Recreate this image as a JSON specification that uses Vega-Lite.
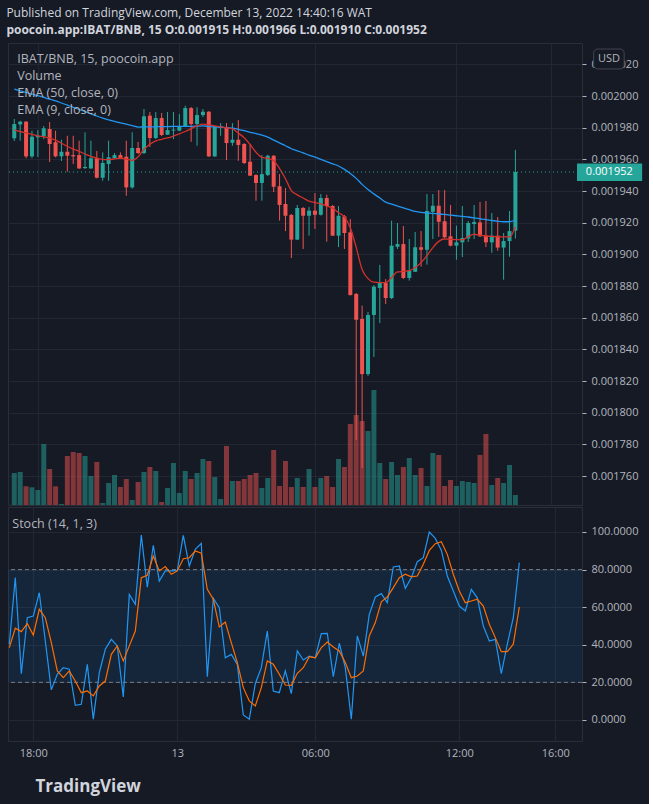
{
"$schema": "https://vega.github.io/schema/vega-lite/v6.json",
"background": "#161a25",
"padding": {"left": 6, "top": 6, "right": 6, "bottom": 12},
"autosize": {"type": "pad"},
"title": {"text": "Published on TradingView.com, December 13, 2022 14:40:16 WAT", "subtitle": "poocoin.app:IBAT/BNB, 15  O:0.001915 H:0.001966 L:0.001910 C:0.001952", "anchor": "start", "fontSize": 12, "fontWeight": "normal", "color": "#d1d4dc", "subtitleFontSize": 12, "subtitleFontWeight": "bold", "subtitleColor": "#d1d4dc", "subtitlePadding": 5, "offset": 6, "font": "Open Sans", "subtitleFont": "Open Sans"},
"datasets": {"bars": [
{"i":0,"o":0.0019733,"h":0.0019855,"l":0.0019716,"c":0.0019823,"v":32,"e50":0.0020044,"e9":0.0019785,"k":40.3,"d":38.5},
{"i":1,"o":0.0019821,"h":0.0019844,"l":0.0019718,"c":0.0019838,"v":33,"e50":0.0020033,"e9":0.0019776,"k":75.7,"d":48.8},
{"i":2,"o":0.0019838,"h":0.0019842,"l":0.0019607,"c":0.0019619,"v":18.7,"e50":0.0020023,"e9":0.0019767,"k":24.6,"d":47},
{"i":3,"o":0.0019619,"h":0.0019781,"l":0.0019607,"c":0.0019743,"v":17.7,"e50":0.0020012,"e9":0.0019758,"k":54.4,"d":51.2},
{"i":4,"o":0.0019739,"h":0.0019785,"l":0.0019615,"c":0.0019749,"v":15,"e50":0.0020002,"e9":0.0019749,"k":55.3,"d":45.2},
{"i":5,"o":0.0019746,"h":0.0019811,"l":0.0019728,"c":0.0019796,"v":61,"e50":0.0019991,"e9":0.0019742,"k":67.7,"d":58.9},
{"i":6,"o":0.0019792,"h":0.0019836,"l":0.0019583,"c":0.0019697,"v":36,"e50":0.001998,"e9":0.0019734,"k":42,"d":54.4},
{"i":7,"o":0.0019708,"h":0.0019781,"l":0.0019613,"c":0.0019619,"v":18.7,"e50":0.001997,"e9":0.0019721,"k":16,"d":41.1},
{"i":8,"o":0.0019619,"h":0.0019724,"l":0.001959,"c":0.0019648,"v":1,"e50":0.0019956,"e9":0.0019702,"k":24.3,"d":26.1},
{"i":9,"o":0.0019648,"h":0.0019749,"l":0.0019522,"c":0.0019623,"v":49,"e50":0.0019942,"e9":0.0019683,"k":27.8,"d":22.5},
{"i":10,"o":0.0019627,"h":0.0019749,"l":0.0019571,"c":0.0019619,"v":53,"e50":0.0019929,"e9":0.0019665,"k":27,"d":26.1},
{"i":11,"o":0.0019627,"h":0.0019718,"l":0.0019539,"c":0.0019543,"v":52,"e50":0.0019915,"e9":0.001965,"k":7.8,"d":20.7},
{"i":12,"o":0.0019545,"h":0.0019771,"l":0.0019539,"c":0.0019552,"v":49,"e50":0.0019901,"e9":0.0019634,"k":8.3,"d":14.5},
{"i":13,"o":0.0019543,"h":0.0019718,"l":0.0019539,"c":0.0019607,"v":29,"e50":0.0019888,"e9":0.0019619,"k":29.6,"d":15.4},
{"i":14,"o":0.0019607,"h":0.0019653,"l":0.001948,"c":0.0019484,"v":43,"e50":0.0019874,"e9":0.0019608,"k":0.4,"d":12.8},
{"i":15,"o":0.0019484,"h":0.0019644,"l":0.0019465,"c":0.0019577,"v":2,"e50":0.0019861,"e9":0.00196,"k":25.2,"d":18.1},
{"i":16,"o":0.0019571,"h":0.0019718,"l":0.0019465,"c":0.0019613,"v":22,"e50":0.001985,"e9":0.0019598,"k":37.6,"d":20.7},
{"i":17,"o":0.0019608,"h":0.001964,"l":0.0019602,"c":0.0019627,"v":30,"e50":0.001984,"e9":0.0019603,"k":42.9,"d":34.9},
{"i":18,"o":0.0019627,"h":0.0019644,"l":0.0019602,"c":0.0019607,"v":18,"e50":0.0019831,"e9":0.0019607,"k":39.4,"d":39.4},
{"i":19,"o":0.0019617,"h":0.0019718,"l":0.001937,"c":0.0019423,"v":26,"e50":0.0019822,"e9":0.0019602,"k":12.2,"d":31.4},
{"i":20,"o":0.0019423,"h":0.0019771,"l":0.0019415,"c":0.0019672,"v":5,"e50":0.0019813,"e9":0.0019593,"k":66.8,"d":39.4},
{"i":21,"o":0.0019672,"h":0.001971,"l":0.0019634,"c":0.001964,"v":23,"e50":0.0019804,"e9":0.0019616,"k":61.5,"d":47.3},
{"i":22,"o":0.001964,"h":0.0019918,"l":0.0019634,"c":0.0019872,"v":33,"e50":0.0019805,"e9":0.0019664,"k":98.4,"d":75.7},
{"i":23,"o":0.0019876,"h":0.0019899,"l":0.0019678,"c":0.0019735,"v":38,"e50":0.0019805,"e9":0.0019696,"k":70.7,"d":77},
{"i":24,"o":0.0019735,"h":0.0019899,"l":0.0019728,"c":0.0019861,"v":34,"e50":0.0019806,"e9":0.0019717,"k":92.9,"d":87.2},
{"i":25,"o":0.0019861,"h":0.0019893,"l":0.0019747,"c":0.0019754,"v":3,"e50":0.0019807,"e9":0.0019727,"k":73.9,"d":79.3},
{"i":26,"o":0.0019756,"h":0.0019899,"l":0.0019754,"c":0.0019785,"v":17,"e50":0.0019807,"e9":0.0019735,"k":79.3,"d":81.6},
{"i":27,"o":0.0019782,"h":0.0019899,"l":0.0019728,"c":0.0019788,"v":42,"e50":0.0019808,"e9":0.0019747,"k":79.3,"d":77.5},
{"i":28,"o":0.0019781,"h":0.0019886,"l":0.0019779,"c":0.0019809,"v":12,"e50":0.0019809,"e9":0.0019761,"k":79.6,"d":79.3},
{"i":29,"o":0.0019809,"h":0.0019939,"l":0.0019804,"c":0.0019924,"v":34,"e50":0.0019809,"e9":0.0019776,"k":98.2,"d":85.8},
{"i":30,"o":0.0019924,"h":0.0019931,"l":0.0019711,"c":0.0019823,"v":26,"e50":0.0019809,"e9":0.0019794,"k":81.9,"d":86.3},
{"i":31,"o":0.0019823,"h":0.0019929,"l":0.0019686,"c":0.001988,"v":32,"e50":0.001981,"e9":0.0019811,"k":90.8,"d":89.9},
{"i":32,"o":0.001988,"h":0.0019918,"l":0.0019867,"c":0.0019901,"v":46,"e50":0.0019811,"e9":0.0019822,"k":94,"d":88.7},
{"i":33,"o":0.0019901,"h":0.0019905,"l":0.0019615,"c":0.0019619,"v":44,"e50":0.0019808,"e9":0.0019818,"k":23,"d":69.5},
{"i":34,"o":0.0019619,"h":0.0019811,"l":0.0019615,"c":0.0019809,"v":28,"e50":0.0019805,"e9":0.0019812,"k":64.7,"d":64.2},
{"i":35,"o":0.0019798,"h":0.0019829,"l":0.0019749,"c":0.0019809,"v":6,"e50":0.0019803,"e9":0.0019805,"k":59.7,"d":49.5},
{"i":36,"o":0.0019804,"h":0.0019829,"l":0.0019596,"c":0.0019703,"v":59,"e50":0.00198,"e9":0.0019799,"k":33.1,"d":52.1},
{"i":37,"o":0.0019705,"h":0.0019829,"l":0.0019686,"c":0.0019724,"v":24,"e50":0.0019798,"e9":0.0019792,"k":34.9,"d":41.1},
{"i":38,"o":0.0019724,"h":0.0019848,"l":0.0019591,"c":0.0019691,"v":24,"e50":0.001979,"e9":0.0019766,"k":29.6,"d":30.5},
{"i":39,"o":0.0019697,"h":0.0019703,"l":0.0019571,"c":0.0019577,"v":26,"e50":0.0019781,"e9":0.0019737,"k":2.7,"d":17.2},
{"i":40,"o":0.0019585,"h":0.0019697,"l":0.0019495,"c":0.0019497,"v":30,"e50":0.0019771,"e9":0.0019694,"k":0.4,"d":10.1},
{"i":41,"o":0.0019501,"h":0.0019507,"l":0.0019339,"c":0.0019451,"v":32,"e50":0.0019763,"e9":0.0019645,"k":19.3,"d":7.4},
{"i":42,"o":0.0019451,"h":0.0019627,"l":0.0019339,"c":0.0019507,"v":17,"e50":0.0019753,"e9":0.0019613,"k":27.8,"d":17.2},
{"i":43,"o":0.0019501,"h":0.0019629,"l":0.0019495,"c":0.0019623,"v":27,"e50":0.001974,"e9":0.0019607,"k":47.3,"d":31.4},
{"i":44,"o":0.0019623,"h":0.0019627,"l":0.0019394,"c":0.0019427,"v":55,"e50":0.0019722,"e9":0.0019591,"k":15.4,"d":29.6},
{"i":45,"o":0.001943,"h":0.0019507,"l":0.0019213,"c":0.0019312,"v":19,"e50":0.0019704,"e9":0.0019542,"k":14.5,"d":24.3},
{"i":46,"o":0.0019318,"h":0.0019419,"l":0.0019147,"c":0.0019244,"v":44,"e50":0.0019686,"e9":0.0019478,"k":26.1,"d":18.6},
{"i":47,"o":0.0019249,"h":0.0019255,"l":0.0018977,"c":0.0019093,"v":18,"e50":0.0019667,"e9":0.0019403,"k":14,"d":18.4},
{"i":48,"o":0.0019093,"h":0.0019312,"l":0.0019091,"c":0.0019293,"v":27,"e50":0.0019654,"e9":0.0019376,"k":36.7,"d":24.8},
{"i":49,"o":0.0019293,"h":0.0019299,"l":0.0019034,"c":0.0019244,"v":18,"e50":0.0019641,"e9":0.0019356,"k":31.9,"d":27.8},
{"i":50,"o":0.0019244,"h":0.0019299,"l":0.0019118,"c":0.0019276,"v":36,"e50":0.0019627,"e9":0.0019336,"k":34,"d":33.7},
{"i":51,"o":0.0019276,"h":0.0019387,"l":0.001916,"c":0.001925,"v":18,"e50":0.0019614,"e9":0.0019328,"k":33.1,"d":33.1},
{"i":52,"o":0.001925,"h":0.0019381,"l":0.0019245,"c":0.0019356,"v":27,"e50":0.00196,"e9":0.0019319,"k":45.9,"d":38.5},
{"i":53,"o":0.0019356,"h":0.0019377,"l":0.001908,"c":0.0019305,"v":29,"e50":0.0019586,"e9":0.0019305,"k":46.1,"d":41.5},
{"i":54,"o":0.0019305,"h":0.0019312,"l":0.0019116,"c":0.0019118,"v":18,"e50":0.0019572,"e9":0.0019291,"k":23,"d":38.8},
{"i":55,"o":0.0019118,"h":0.0019305,"l":0.0019046,"c":0.0019244,"v":46,"e50":0.0019558,"e9":0.0019263,"k":40.8,"d":36.7},
{"i":56,"o":0.001924,"h":0.0019249,"l":0.0019034,"c":0.0019135,"v":38,"e50":0.0019537,"e9":0.0019237,"k":27.8,"d":30.5},
{"i":57,"o":0.0019139,"h":0.0019223,"l":0.001874,"c":0.0018743,"v":81,"e50":0.0019511,"e9":0.0019168,"k":0.4,"d":22.5},
{"i":58,"o":0.001875,"h":0.0018756,"l":0.0017828,"c":0.0018587,"v":90,"e50":0.001948,"e9":0.0019044,"k":44.7,"d":23.4},
{"i":59,"o":0.0018592,"h":0.0018676,"l":0.0017651,"c":0.0018244,"v":84,"e50":0.0019442,"e9":0.0018905,"k":34,"d":26.1},
{"i":60,"o":0.0018244,"h":0.0018636,"l":0.0018232,"c":0.0018617,"v":74,"e50":0.0019409,"e9":0.0018847,"k":56.2,"d":44.7},
{"i":61,"o":0.0018617,"h":0.0018806,"l":0.0018352,"c":0.0018796,"v":115,"e50":0.0019382,"e9":0.0018824,"k":65.4,"d":51.8},
{"i":62,"o":0.0018788,"h":0.0018933,"l":0.0018566,"c":0.0018819,"v":42,"e50":0.0019356,"e9":0.0018821,"k":67.2,"d":62.9},
{"i":63,"o":0.0018819,"h":0.0018844,"l":0.0018686,"c":0.0018724,"v":26,"e50":0.001933,"e9":0.0018821,"k":62.4,"d":65.4},
{"i":64,"o":0.0018724,"h":0.0019213,"l":0.0018718,"c":0.0019055,"v":43,"e50":0.0019317,"e9":0.0018854,"k":81.4,"d":70.4},
{"i":65,"o":0.0019048,"h":0.0019198,"l":0.0019034,"c":0.0019065,"v":30,"e50":0.0019305,"e9":0.0018889,"k":81.9,"d":75.7},
{"i":66,"o":0.0019065,"h":0.0019179,"l":0.0018844,"c":0.0018851,"v":38,"e50":0.0019293,"e9":0.0018892,"k":70,"d":77.5},
{"i":67,"o":0.0018851,"h":0.0019097,"l":0.0018834,"c":0.0018897,"v":47,"e50":0.0019282,"e9":0.0018897,"k":75.7,"d":76.1},
{"i":68,"o":0.001889,"h":0.0019141,"l":0.0018889,"c":0.0019045,"v":30,"e50":0.0019271,"e9":0.0018917,"k":84.2,"d":76.6},
{"i":69,"o":0.0019045,"h":0.0019147,"l":0.0018922,"c":0.0019029,"v":37,"e50":0.0019265,"e9":0.0018948,"k":86.3,"d":82.8},
{"i":70,"o":0.0019029,"h":0.0019381,"l":0.0018935,"c":0.0019274,"v":19,"e50":0.0019262,"e9":0.0018992,"k":100,"d":90.2},
{"i":71,"o":0.0019269,"h":0.0019381,"l":0.0019097,"c":0.0019307,"v":52,"e50":0.0019259,"e9":0.0019043,"k":96.6,"d":93.8},
{"i":72,"o":0.0019307,"h":0.0019406,"l":0.0019111,"c":0.0019206,"v":50,"e50":0.0019255,"e9":0.0019082,"k":90.3,"d":94.8},
{"i":73,"o":0.0019209,"h":0.0019406,"l":0.0019103,"c":0.0019108,"v":19,"e50":0.0019252,"e9":0.0019097,"k":76.6,"d":88.1},
{"i":74,"o":0.0019114,"h":0.0019312,"l":0.001905,"c":0.0019055,"v":25,"e50":0.0019248,"e9":0.0019095,"k":68.6,"d":77.5},
{"i":75,"o":0.0019055,"h":0.0019181,"l":0.0018966,"c":0.0019076,"v":19,"e50":0.0019244,"e9":0.0019093,"k":60.6,"d":68.6},
{"i":76,"o":0.0019076,"h":0.0019305,"l":0.0018983,"c":0.0019103,"v":24,"e50":0.001924,"e9":0.0019092,"k":58,"d":62.4},
{"i":77,"o":0.0019101,"h":0.0019211,"l":0.0019078,"c":0.0019198,"v":23,"e50":0.0019236,"e9":0.0019113,"k":69.5,"d":63.3},
{"i":78,"o":0.0019192,"h":0.0019312,"l":0.0019097,"c":0.0019204,"v":22,"e50":0.0019231,"e9":0.0019127,"k":65,"d":64.2},
{"i":79,"o":0.0019202,"h":0.0019331,"l":0.001911,"c":0.0019114,"v":50,"e50":0.0019225,"e9":0.0019121,"k":50,"d":60.6},
{"i":80,"o":0.0019118,"h":0.0019337,"l":0.0019046,"c":0.0019076,"v":71,"e50":0.0019219,"e9":0.0019116,"k":42,"d":50.9},
{"i":81,"o":0.0019076,"h":0.0019261,"l":0.001901,"c":0.0019118,"v":20,"e50":0.0019214,"e9":0.0019113,"k":42.9,"d":43.8},
{"i":82,"o":0.0019118,"h":0.0019236,"l":0.0019023,"c":0.0019043,"v":27,"e50":0.0019209,"e9":0.0019111,"k":24.6,"d":36.3},
{"i":83,"o":0.0019043,"h":0.0019135,"l":0.001884,"c":0.0019084,"v":22,"e50":0.0019206,"e9":0.001911,"k":40.3,"d":36.3},
{"i":84,"o":0.0019084,"h":0.0019274,"l":0.0018985,"c":0.0019147,"v":40,"e50":0.0019206,"e9":0.001911,"k":54.4,"d":40.3},
{"i":85,"o":0.001915,"h":0.001966,"l":0.00191,"c":0.001952,"v":10,"e50":0.0019217,"e9":0.0019173,"k":83.7,"d":60.1}
]},
"vconcat": [
{
 "width": 574, "height": 462,
 "resolve": {"scale": {"y": "independent"}},
 "layer": [
  {
   "data": {"name": "bars"},
   "mark": {"type": "bar", "width": 5},
   "encoding": {
    "x": {"field": "i", "type": "quantitative", "scale": {"domain": [-0.217, 95.45], "nice": false, "zero": false}, "axis": {"values": [4, 28, 51, 75, 91], "tickCount": 20, "labels": false, "ticks": false, "domain": false, "grid": true, "title": null}},
    "y": {"field": "v", "type": "quantitative", "scale": {"domain": [0, 462], "nice": false}, "axis": null},
    "color": {"condition": {"test": "datum.c >= datum.o", "value": "#26a69a"}, "value": "#ef5350"},
    "opacity": {"value": 0.5}
   }
  },
  {
   "layer": [
    {
     "data": {"name": "bars"},
     "mark": {"type": "rule", "strokeWidth": 1},
     "encoding": {
      "x": {"field": "i", "type": "quantitative", "scale": {"domain": [-0.217, 95.45], "nice": false, "zero": false}},
      "y": {"field": "l", "type": "quantitative", "scale": {"domain": [0.0017417, 0.0020335], "nice": false, "zero": false},
            "axis": {"orient": "right", "values": [0.00176,0.00178,0.0018,0.00182,0.00184,0.00186,0.00188,0.0019,0.00192,0.00194,0.00196,0.00198,0.002,0.00202], "tickCount": 30, "format": ".6f", "grid": true, "tickSize": 4, "labelPadding": 5, "labelOverlap": false, "title": null}},
      "y2": {"field": "h"},
      "color": {"condition": {"test": "datum.c >= datum.o", "value": "#26a69a"}, "value": "#ef5350"}
     }
    },
    {
     "data": {"name": "bars"},
     "mark": {"type": "bar", "width": 4},
     "encoding": {
      "x": {"field": "i", "type": "quantitative"},
      "y": {"field": "o", "type": "quantitative"},
      "y2": {"field": "c"},
      "color": {"condition": {"test": "datum.c >= datum.o", "value": "#26a69a"}, "value": "#ef5350"}
     }
    },
    {
     "data": {"name": "bars"},
     "mark": {"type": "line", "color": "#2196f3", "strokeWidth": 1.3, "interpolate": "monotone"},
     "encoding": {"x": {"field": "i", "type": "quantitative"}, "y": {"field": "e50", "type": "quantitative"}}
    },
    {
     "data": {"name": "bars"},
     "mark": {"type": "line", "color": "#d3312c", "strokeWidth": 1.3, "interpolate": "monotone"},
     "encoding": {"x": {"field": "i", "type": "quantitative"}, "y": {"field": "e9", "type": "quantitative"}}
    },
    {
     "data": {"values": [{}]},
     "mark": {"type": "rule", "color": "#26a69a", "strokeDash": [1, 3], "strokeWidth": 1},
     "encoding": {"y": {"datum": 0.001952}}
    },
    {
     "data": {"values": [{}]},
     "mark": {"type": "rect", "color": "#26a69a", "clip": false},
     "encoding": {"x": {"datum": 95.45}, "x2": {"datum": 106.5}, "y": {"datum": 0.0019574}, "y2": {"datum": 0.0019463}}
    },
    {
     "data": {"values": [{}]},
     "mark": {"type": "text", "color": "#ffffff", "fontSize": 11, "align": "left", "baseline": "middle", "font": "Open Sans"},
     "encoding": {"x": {"datum": 96.95}, "y": {"datum": 0.001952}, "text": {"value": "0.001952"}}
    },
    {
     "data": {"values": [{}]},
     "mark": {"type": "rect", "fill": "#161a25", "stroke": "#434651", "strokeWidth": 1, "cornerRadius": 4, "clip": false},
     "encoding": {"x": {"datum": 98.28}, "x2": {"datum": 103.45}, "y": {"datum": 0.0020297}, "y2": {"datum": 0.0020171}}
    },
    {
     "data": {"values": [{}]},
     "mark": {"type": "text", "color": "#b2b5be", "fontSize": 11, "align": "center", "baseline": "middle", "font": "Open Sans"},
     "encoding": {"x": {"datum": 100.87}, "y": {"datum": 0.0020234}, "text": {"value": "USD"}}
    },
    {
     "data": {"values": [{"t": "IBAT/BNB, 15, poocoin.app", "p": 0.0020234, "w": "bold"}, {"t": "Volume", "p": 0.0020126, "w": "normal"}, {"t": "EMA (50, close, 0)", "p": 0.0020019, "w": "normal"}, {"t": "EMA (9, close, 0)", "p": 0.0019912, "w": "normal"}]},
     "mark": {"type": "text", "color": "#b2b5be", "fontSize": 12.5, "align": "left", "baseline": "middle", "font": "Open Sans"},
     "encoding": {"x": {"datum": 0.5}, "y": {"field": "p", "type": "quantitative"}, "text": {"field": "t"}, "fontWeight": {"field": "w", "type": "nominal", "scale": {"domain": ["bold", "normal"], "range": ["bold", "normal"]}, "legend": null}}
    }
   ]
  }
 ]
},
{
 "width": 574, "height": 234,
 "layer": [
  {
   "data": {"values": [{}]},
   "mark": {"type": "rect", "color": "#2196f3", "opacity": 0.1},
   "encoding": {"x": {"value": 0}, "x2": {"value": "width"}, "y": {"datum": 80}, "y2": {"datum": 20}}
  },
  {
   "data": {"values": [{"lv": 80}, {"lv": 20}]},
   "mark": {"type": "rule", "color": "#787b86", "strokeDash": [4, 3], "strokeWidth": 1},
   "encoding": {"y": {"field": "lv", "type": "quantitative"}}
  },
  {
   "data": {"name": "bars"},
   "mark": {"type": "line", "color": "#2196f3", "strokeWidth": 1.2},
   "encoding": {
    "x": {"field": "i", "type": "quantitative", "scale": {"domain": [-0.217, 95.45], "nice": false, "zero": false},
          "axis": {"values": [4, 28, 51, 75, 91], "tickCount": 20, "labelExpr": "datum.value == 4 ? '18:00' : datum.value == 28 ? '13' : datum.value == 51 ? '06:00' : datum.value == 75 ? '12:00' : '16:00'", "grid": true, "ticks": false, "domain": false, "labelPadding": 6, "labelFontSize": 11,
                   "title": "TradingView", "titleX": 27, "titleY": 45, "titleAlign": "left", "titleBaseline": "middle", "titleFontSize": 17, "titleFontWeight": "bold", "titleColor": "#d1d4dc", "titleFont": "Open Sans"}},
    "y": {"field": "k", "type": "quantitative", "scale": {"domain": [-11.2, 113.3], "nice": false, "zero": false},
          "axis": {"orient": "right", "values": [0, 20, 40, 60, 80, 100], "tickCount": 20, "format": ".4f", "grid": true, "tickSize": 4, "labelPadding": 5, "labelOverlap": false, "title": null}}
   }
  },
  {
   "data": {"name": "bars"},
   "mark": {"type": "line", "color": "#ff6d00", "strokeWidth": 1.2},
   "encoding": {"x": {"field": "i", "type": "quantitative"}, "y": {"field": "d", "type": "quantitative"}}
  },
  {
   "data": {"values": [{}]},
   "mark": {"type": "text", "color": "#b2b5be", "fontSize": 12.5, "align": "left", "baseline": "middle", "font": "Open Sans"},
   "encoding": {"x": {"datum": 0.5}, "y": {"datum": 104.3}, "text": {"value": "Stoch (14, 1, 3)"}}
  }
 ]
}
],
"spacing": 0,
"config": {
 "font": "Open Sans",
 "view": {"stroke": "#2a2e39"},
 "axis": {"domain": false, "gridColor": "#232733", "gridOpacity": 1, "labelColor": "#b2b5be", "labelFont": "Open Sans", "labelFontSize": 11, "tickColor": "#b2b5be"}
}
}
